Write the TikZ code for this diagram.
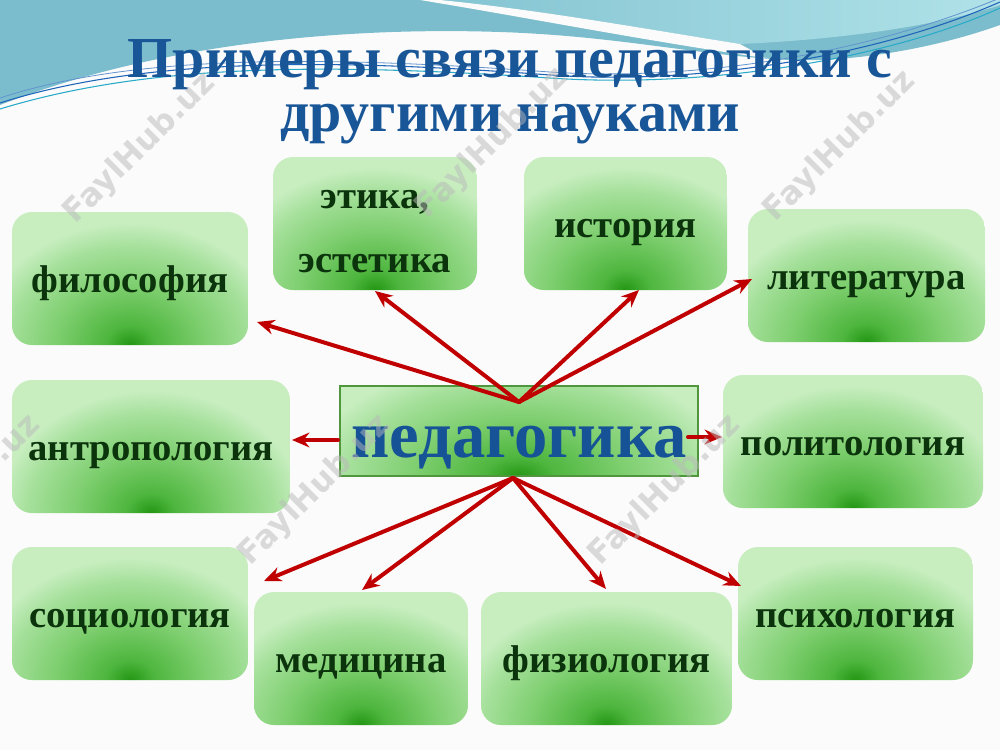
\documentclass[tikz,border=0pt]{standalone}
\usepackage{fontspec}
\setmainfont{Liberation Serif}
\newfontfamily\wmfont{DejaVu Sans}
\usetikzlibrary{arrows.meta}
\definecolor{gdark}{RGB}{35,150,20}
\definecolor{gmid}{RGB}{78,182,62}
\definecolor{glight}{RGB}{125,206,110}
\definecolor{glight2}{RGB}{165,224,155}
\definecolor{gpale}{RGB}{200,238,192}
\definecolor{txtgreen}{RGB}{12,52,12}
\definecolor{titleblue}{RGB}{24,86,152}
\definecolor{pedblue}{RGB}{22,82,150}
\definecolor{arrred}{RGB}{192,0,0}
\definecolor{bgwhite}{RGB}{251,251,251}
\definecolor{tealA}{RGB}{124,189,205}
\definecolor{tealB}{RGB}{132,196,210}
\definecolor{cyanL}{RGB}{176,226,232}
\definecolor{lineblue}{RGB}{30,100,185}
\definecolor{linecyan}{RGB}{40,170,200}
\definecolor{pedborder}{RGB}{80,150,60}
\definecolor{wmgray}{RGB}{185,185,185}
\pgfdeclareradialshading{glow}{\pgfpointorigin}{color(0bp)=(gdark); color(4bp)=(gmid); color(12bp)=(glight); color(20bp)=(glight2); color(25bp)=(gpale); color(50bp)=(gpale)}
% #1 name, #2 cx, #3 cy, #4 w, #5 h, #6 extra node options, #7 text
\newcommand\greenbox[7]{%
  \begin{scope}
    \clip[rounded corners=15pt] (#2-#4/2,#3-#5/2) rectangle (#2+#4/2,#3+#5/2);
    \fill[gpale] (#2-#4/2,#3-#5/2) rectangle (#2+#4/2,#3+#5/2);
    \begin{scope}[transform canvas={shift={(#2,#3+#5/2)}, yscale=0.8}]
      \shade[shading=glow] (0,0) circle (115pt);
    \end{scope}
  \end{scope}
  \node[box, sz={#4}{#5}, #6] (#1) at (#2,#3) {#7};}
\tikzset{
  sz/.style 2 args={minimum width=#1*0.75pt, minimum height=#2*0.75pt},
  box/.style={rounded corners=15pt, inner sep=0pt, outer sep=0pt,
    font=\fontsize{29}{34}\selectfont\bfseries, text=txtgreen, align=center,
    text height=27.5pt, text depth=6.5pt},
  pedbox/.style={draw=pedborder, line width=0.8pt, inner sep=0pt,
    font=\fontsize{50}{56}\selectfont\bfseries, text=pedblue, text height=51pt, text depth=11pt},
  arr/.style={draw=arrred, line width=3pt, line cap=round, -{Stealth[length=13pt,width=11pt]}},
  wm/.style={rotate=45, text=wmgray, text opacity=0.5, font=\wmfont\bfseries\fontsize{24}{24}\selectfont},
  ttl/.style={anchor=base, inner sep=0pt, text=titleblue, font=\fontsize{43.5}{48}\selectfont\bfseries}
}
\begin{document}
\begin{tikzpicture}[x=0.75pt,y=-0.75pt]
\useasboundingbox (0,0) rectangle (1000,750);
% background
\fill[bgwhite] (0,0) rectangle (1000,750);
\fill[tealA] (0,0) -- (1000,0) -- (1000,25) .. controls (930,50) and (850,62) .. (790,60)
  .. controls (700,56) and (620,36) .. (500,32) .. controls (380,28) and (180,35) .. (0,105) -- cycle;
\shade[left color=tealB, right color=cyanL] (440,0) -- (1000,0) -- (1000,5)
  .. controls (930,28) and (830,40) .. (740,44) .. controls (640,28) and (540,10) .. (440,0) -- cycle;
\fill[bgwhite] (440,0) .. controls (540,10) and (640,28) .. (740,44) -- (765,58)
  .. controls (640,40) and (530,18) .. (420,0) -- cycle;
\draw[lineblue, line width=0.8pt] (0,103) .. controls (150,55) and (350,60) .. (550,75)
  .. controls (700,86) and (880,55) .. (1000,2);
\draw[linecyan, line width=0.8pt] (0,109) .. controls (160,60) and (350,65) .. (550,78)
  .. controls (710,89) and (890,58) .. (1000,8);
\draw[lineblue!70, line width=0.6pt] (0,98) .. controls (140,52) and (340,57) .. (550,72)
  .. controls (700,82) and (870,52) .. (1000,-2);
% title
\node[ttl] (t1) at (510,77) {Примеры связи педагогики с};
\node[ttl] (t2) at (510,131) {другими науками};
% boxes
\greenbox{phil}{130}{278.5}{236}{133}{}{философия}
\greenbox{eth}{375}{223.5}{204}{133}{text height=, text depth=, yshift=-6pt}{этика,\\[14pt]эстетика}
\greenbox{hist}{625.5}{223.5}{203}{133}{}{история}
\greenbox{lit}{866.5}{275.5}{237}{133}{}{литература}
\greenbox{anth}{151}{446.5}{278}{133}{}{антропология}
\greenbox{pol}{853}{441.5}{260}{133}{}{политология}
\greenbox{soc}{130}{613.5}{236}{133}{}{социология}
\greenbox{med}{361}{658.5}{214}{133}{}{медицина}
\greenbox{phys}{606.5}{658.5}{251}{133}{}{физиология}
\greenbox{psy}{855.5}{613.5}{235}{133}{}{психология}
% central box
\begin{scope}
  \clip (340,386) rectangle (698,476);
  \fill[gpale] (340,386) rectangle (698,476);
  \begin{scope}[transform canvas={shift={(519,476)}, yscale=0.55}]
    \shade[shading=glow] (0,0) circle (160pt);
  \end{scope}
\end{scope}
\node[pedbox, sz={358}{90}] (ped) at (519,431) {педагогика};
% connector points
\coordinate (hubT) at (519,402);
\coordinate (hubB) at (513,478);
\coordinate (hubL) at (338,440);
\coordinate (hubR) at (688,437);
\coordinate (tPhil) at (257,322);
\coordinate (tEth) at (375,291);
\coordinate (tHist) at (639,290);
\coordinate (tLit) at (752,279);
\coordinate (tAnth) at (292,440);
\coordinate (tPol) at (722,437);
\coordinate (tSoc) at (264,581);
\coordinate (tMed) at (362,590);
\coordinate (tPhys) at (606,589);
\coordinate (tPsy) at (741,586);
% arrows
\draw[arr] (hubT) -- (tPhil);
\draw[arr] (hubT) -- (tEth);
\draw[arr] (hubT) -- (tHist);
\draw[arr] (hubT) -- (tLit);
\draw[arr] (hubL) -- (tAnth);
\draw[arr] (hubR) -- (tPol);
\draw[arr] (hubB) -- (tSoc);
\draw[arr] (hubB) -- (tMed);
\draw[arr] (hubB) -- (tPhys);
\draw[arr] (hubB) -- (tPsy);
% watermarks (semi-transparent overlay)
\node[wm] (wm1) at (140,148) {FaylHub.uz};
\node[wm] (wm2) at (492,143) {FaylHub.uz};
\node[wm] (wm3) at (840,146) {FaylHub.uz};
\node[wm] (wm4) at (-35,490) {FaylHub.uz};
\node[wm] (wm5) at (315,490) {FaylHub.uz};
\node[wm] (wm6) at (665,490) {FaylHub.uz};
\end{tikzpicture}
\end{document}
